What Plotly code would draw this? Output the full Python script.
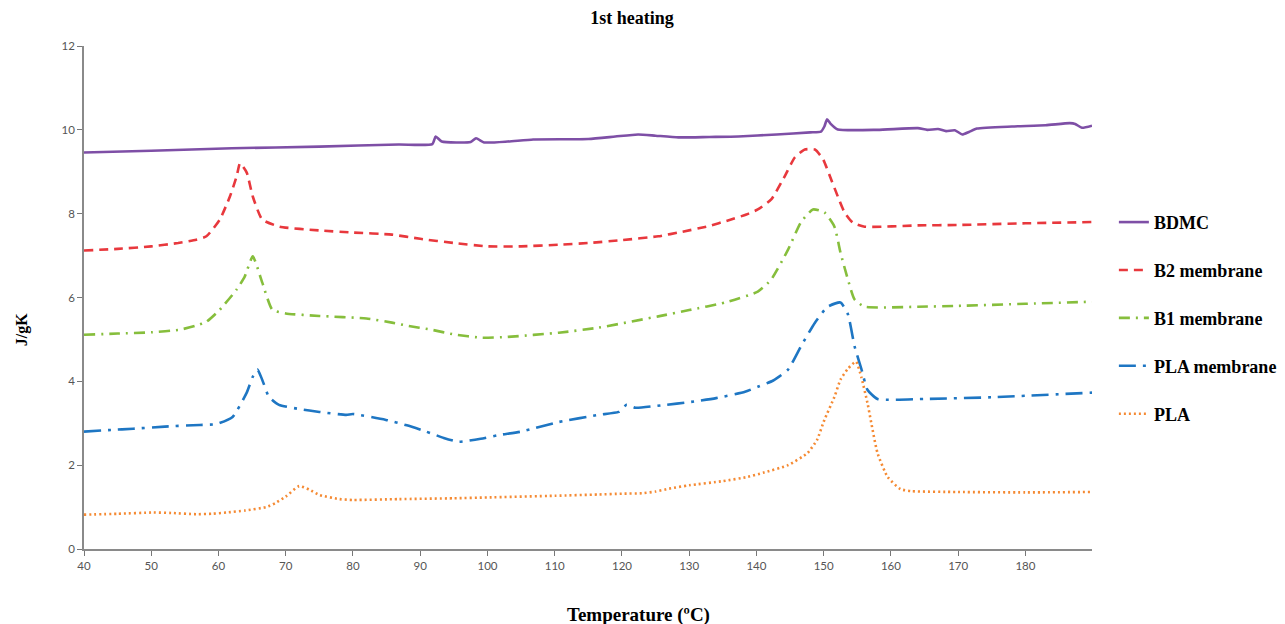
import plotly.graph_objects as go

# ---- data ----
bdmc_t = [40, 50, 62, 75, 86.8, 91.8, 92.3, 93.2, 97.5, 98.3, 99.5, 103, 106.8, 115, 119, 122.4, 125, 128.4, 133,
          137.3, 143, 148, 149.6, 150.1, 150.5, 151.0, 152.1, 158, 164, 165.4, 167, 168.2, 169.5, 170.6, 171.6,
          172.8, 178, 183, 186.6, 187.4, 188.4, 189.9]
bdmc_y = [9.46, 9.50, 9.56, 9.60, 9.65, 9.66, 9.84, 9.72, 9.71, 9.80, 9.70, 9.72, 9.77, 9.78, 9.84, 9.89, 9.86,
          9.82, 9.83, 9.84, 9.89, 9.94, 9.96, 10.08, 10.25, 10.15, 10.01, 10.0, 10.04, 10.0, 10.02, 9.97, 9.99,
          9.89, 9.95, 10.03, 10.08, 10.11, 10.16, 10.14, 10.05, 10.1]

b2_t = [40, 45, 50, 54, 56.7, 58.2, 60.2, 61.7, 62.7, 63.2, 64.2, 65.1, 66.5, 69.1, 75, 80, 85.8, 90, 95, 100,
        105, 110.6, 115, 120, 125.4, 129, 132.8, 136, 138.5, 140.2, 142.2, 144.2, 145.7, 147.2, 148.7, 149.9,
        151.1, 152.1, 153.1, 154.3, 156.1, 164, 170, 180, 189.9]
b2_y = [7.12, 7.16, 7.22, 7.3, 7.38, 7.46, 7.86, 8.41, 8.89, 9.2, 8.98, 8.41, 7.86, 7.69, 7.6, 7.55, 7.5, 7.4,
        7.3, 7.22, 7.22, 7.26, 7.3, 7.37, 7.46, 7.57, 7.70, 7.85, 7.98, 8.1, 8.34, 8.89, 9.34, 9.53, 9.53, 9.3,
        8.82, 8.41, 8.03, 7.79, 7.69, 7.72, 7.73, 7.77, 7.8]

b1_t = [40, 45, 50, 54.2, 56.5, 58.2, 60.2, 62.7, 63.9, 65.1, 66.5, 68, 70, 75, 82, 85.8, 88, 91.7, 95, 99.2,
        103, 110.6, 116.5, 125.4, 130, 135.3, 140.2, 142.2, 144.7, 146.6, 148.4, 150.1, 151.6, 152.5, 153.6,
        154.6, 156.1, 164, 170, 180, 189.9]
b1_y = [5.11, 5.14, 5.17, 5.23, 5.32, 5.42, 5.71, 6.19, 6.5, 6.98, 6.36, 5.71, 5.62, 5.56, 5.5, 5.4, 5.33, 5.23,
        5.12, 5.04, 5.06, 5.16, 5.28, 5.55, 5.7, 5.88, 6.14, 6.43, 7.14, 7.79, 8.1, 8.03, 7.69, 7.07, 6.43, 5.95,
        5.78, 5.78, 5.8, 5.85, 5.9]

plam_t = [40, 44, 47.3, 52, 57.2, 59.7, 62.1, 64.2, 65.1, 65.8, 66.5, 67.5, 69, 72, 75, 79, 80, 84.9, 88, 90.9,
          93.5, 95.7, 99, 101.7, 105, 110.6, 116.5, 119.5, 120.7, 122, 126, 130.3, 134, 138.3, 140.2, 142.5,
          144.7, 146.6, 148.7, 150.6, 152.5, 153.6, 154.6, 155.6, 156.5, 158, 165, 175, 189.9]
plam_y = [2.80, 2.84, 2.87, 2.92, 2.96, 2.98, 3.15, 3.73, 4.11, 4.28, 4.04, 3.63, 3.44, 3.34, 3.27, 3.2, 3.22,
          3.08, 2.95, 2.8, 2.65, 2.56, 2.63, 2.72, 2.8, 3.03, 3.2, 3.27, 3.44, 3.37, 3.43, 3.51, 3.6, 3.75, 3.87,
          4.02, 4.28, 4.83, 5.4, 5.78, 5.88, 5.6, 4.83, 4.3, 3.8, 3.58, 3.58, 3.62, 3.73]

pla_t = [40, 45, 50.3, 53, 56.7, 59, 61.2, 64, 67.1, 68.5, 70, 72, 73.5, 75, 78, 80, 86.8, 95, 100, 110, 116.5,
         120, 123, 125, 127, 130, 135, 138.7, 141, 144.7, 147.6, 149, 150.1, 151.6, 152.5, 153.6, 154.8, 155.6,
         156.5, 158, 159.5, 161.4, 163, 170, 180, 189.9]
pla_y = [0.82, 0.84, 0.87, 0.86, 0.83, 0.84, 0.87, 0.92, 1.0, 1.1, 1.25, 1.5, 1.42, 1.29, 1.19, 1.17, 1.19, 1.21,
         1.23, 1.27, 1.3, 1.32, 1.33, 1.37, 1.44, 1.52, 1.62, 1.72, 1.82, 2.0, 2.29, 2.6, 3.08, 3.63, 4.04, 4.3,
         4.47, 4.1, 3.49, 2.29, 1.72, 1.43, 1.38, 1.36, 1.35, 1.36]

x_ticks = [40, 50, 60, 70, 80, 90, 100, 110, 120, 130, 140, 150, 160, 170, 180]
y_ticks = [0, 2, 4, 6, 8, 10, 12]

series = [
    ("BDMC", bdmc_t, bdmc_y, "#7E4FA6", "solid"),
    ("B2 membrane", b2_t, b2_y, "#E8383D", "9px,6px"),
    ("B1 membrane", b1_t, b1_y, "#86BE3C", "11px,6px,2px,6px"),
    ("PLA membrane", plam_t, plam_y, "#1E76C3", "17px,7px,3px,7px"),
    ("PLA", pla_t, pla_y, "#F58A33", "2px,3px"),
]

fig = go.Figure()
for i, (name, t, y, col, dash) in enumerate(series):
    fig.add_trace(go.Scatter(
        x=t, y=y, name=name, mode="lines", legendgroup=str(i),
        line=dict(color=col, width=2.6, dash=dash, shape="spline", smoothing=0.5),
    ))

serif = "Liberation Serif, Times New Roman, serif"
tickfont = dict(family="Lato, Open Sans, sans-serif", size=11.5, color="#555555")

fig.update_layout(
    width=1277, height=616,
    margin=dict(l=76, r=193, t=38, b=75, autoexpand=False),
    paper_bgcolor="white", plot_bgcolor="white",
    title=dict(text="1st heating", x=0.4886, xanchor="center", y=0.984, yanchor="middle",
               font=dict(family=serif, size=18, color="black", weight="bold")),
    legend=dict(xref="container", yref="container", x=0.866, y=0.682, xanchor="left", yanchor="top",
                tracegroupgap=21.5,
                font=dict(family=serif, size=18, color="black", weight="bold"),
                itemwidth=30, bgcolor="rgba(0,0,0,0)"),
    xaxis=dict(range=[40, 189.9], tickvals=x_ticks, ticks="outside", ticklen=5, tickcolor="#777777",
               showline=True, linecolor="#8a8a8a", linewidth=1.5, showgrid=False, zeroline=False,
               tickfont=tickfont),
    yaxis=dict(range=[0, 12], tickvals=y_ticks, ticks="outside", ticklen=5, tickcolor="#777777",
               showline=True, linecolor="#8a8a8a", linewidth=1.5, showgrid=False, zeroline=False,
               tickfont=tickfont),
    annotations=[
        dict(text="Temperature (ºC)", xref="paper", yref="paper", x=0.55, y=-0.131,
             xanchor="center", yanchor="middle", showarrow=False,
             font=dict(family=serif, size=19, color="black", weight="bold")),
        dict(text="J/gK", xref="paper", yref="paper", x=-0.0615, y=0.435, textangle=-90,
             xanchor="center", yanchor="middle", showarrow=False,
             font=dict(family=serif, size=16, color="black", weight="bold")),
    ],
)

fig.write_html("out.html")
